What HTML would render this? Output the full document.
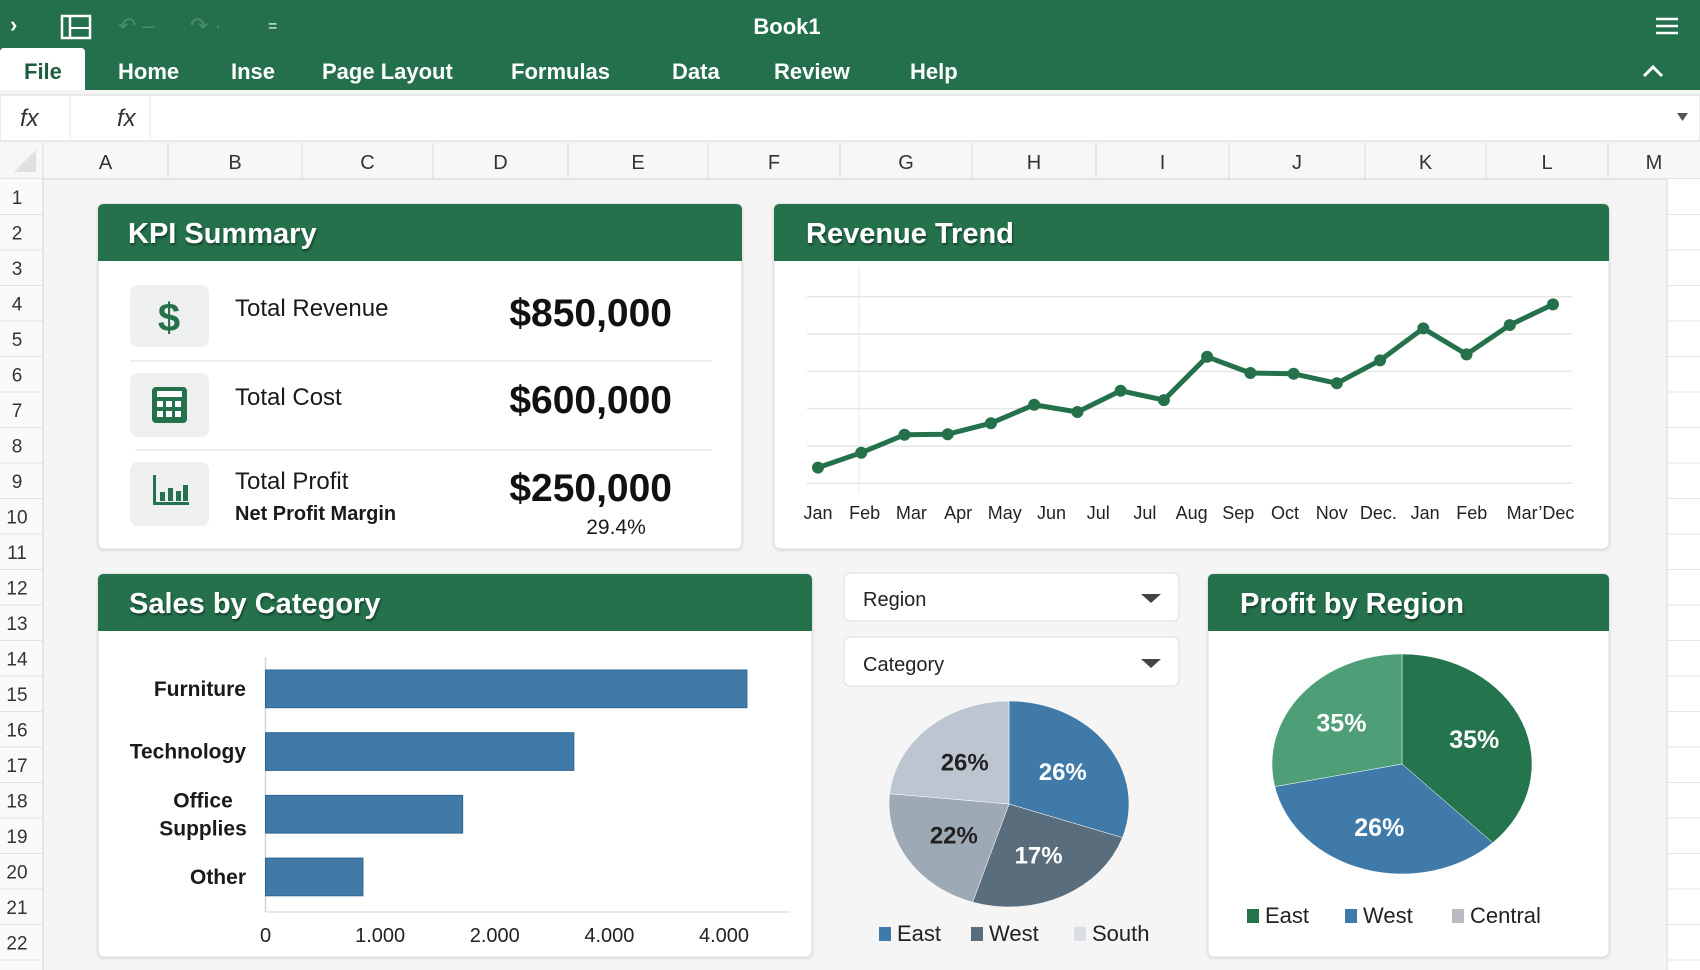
<!DOCTYPE html>
<html><head><meta charset="utf-8"><title>Book1 Dashboard</title>
<style>
html,body{margin:0;padding:0;width:1700px;height:970px;overflow:hidden;background:#f4f5f4;font-family:"Liberation Sans",sans-serif}
svg{display:block}
text{font-family:"Liberation Sans",sans-serif}
</style></head>
<body>
<svg id="root" width="1700" height="970" viewBox="0 0 1700 970" xmlns="http://www.w3.org/2000/svg">
<defs>
<filter id="ts" x="-5%" y="-20%" width="110%" height="140%"><feDropShadow dx="1" dy="2" stdDeviation="1" flood-color="#000" flood-opacity="0.45"/></filter>
<filter id="cs" x="-2%" y="-2%" width="104%" height="106%"><feDropShadow dx="0" dy="1" stdDeviation="1.5" flood-color="#000" flood-opacity="0.12"/></filter>
</defs>
<rect x="0" y="0" width="1700" height="90" fill="#246f4c"/>
<text x="10" y="32" fill="#fff" font-size="22" font-weight="bold">›</text>
<g><rect x="62" y="16" width="28" height="22" fill="none" stroke="#fff" stroke-width="2.5"/><line x1="70" y1="16" x2="70" y2="38" stroke="#fff" stroke-width="2.5"/><line x1="70" y1="28" x2="90" y2="28" stroke="#fff" stroke-width="2"/></g>
<text x="118" y="33" fill="#4e8c6c" font-size="22">↶ –</text>
<text x="190" y="33" fill="#4e8c6c" font-size="22">↷ ·</text>
<text x="268" y="31" fill="#fff" font-size="16">=</text>
<text x="787" y="34" fill="#fff" font-size="22" font-weight="bold" text-anchor="middle">Book1</text>
<g stroke="#fff" stroke-width="2.5"><line x1="1656" y1="19" x2="1678" y2="19"/><line x1="1656" y1="26" x2="1678" y2="26"/><line x1="1656" y1="33" x2="1678" y2="33"/></g>
<path d="M0 52 Q0 48 4 48 L81 48 Q85 48 85 52 L85 90 L0 90 Z" fill="#fff"/>
<g font-size="22" font-weight="bold" fill="#fff">
<text x="24" y="79" fill="#1d5e3e">File</text>
<text x="118" y="79">Home</text>
<text x="231" y="79">Inse</text>
<text x="322" y="79">Page Layout</text>
<text x="511" y="79">Formulas</text>
<text x="672" y="79">Data</text>
<text x="774" y="79">Review</text>
<text x="910" y="79">Help</text>
</g>
<path d="M1644 76 L1653 67 L1662 76" fill="none" stroke="#fff" stroke-width="3"/>
<rect x="0" y="95" width="1700" height="46" fill="#fff" stroke="#d6d6d6"/>
<line x1="70" y1="97" x2="70" y2="139" stroke="#e6e6e6"/>
<line x1="150" y1="97" x2="150" y2="139" stroke="#e6e6e6"/>
<text x="20" y="126" font-size="24" font-style="italic" font-family="Liberation Serif" fill="#333">fx</text>
<text x="117" y="126" font-size="24" font-style="italic" font-family="Liberation Serif" fill="#333">fx</text>
<path d="M1677 113 L1688 113 L1682.5 121 Z" fill="#555"/>
<rect x="0" y="143" width="1700" height="36" fill="#f7f7f7"/>
<line x1="0" y1="179" x2="1700" y2="179" stroke="#cfcfcf"/>
<path d="M36 150 L36 172 L14 172 Z" fill="#e0e0e0"/>
<g id="colheads"></g>
<rect x="0" y="179" width="43" height="791" fill="#fafafa"/>
<line x1="43" y1="179" x2="43" y2="970" stroke="#d6d6d6"/>
<g id="rowheads"></g>
<rect x="1667" y="179" width="33" height="791" fill="#fff"/>
<g id="rightgrid"></g>

<g>
<rect x="98" y="204" width="644" height="345" rx="6" fill="#fff" stroke="#dcdcdc" filter="url(#cs)"/>
<path d="M98 210 Q98 204 104 204 L736 204 Q742 204 742 210 L742 261 L98 261 Z" fill="#24714c"/>
<text x="128" y="243" font-size="29" font-weight="bold" fill="#fff" filter="url(#ts)">KPI Summary</text>
<rect x="130" y="285" width="79" height="62" rx="8" fill="#eef0ef"/>
<text x="169" y="331" font-size="40" font-weight="bold" fill="#24714c" text-anchor="middle">$</text>
<rect x="130" y="373" width="79" height="64" rx="8" fill="#eef0ef"/>
<g><rect x="152" y="387" width="35" height="36" rx="4" fill="#24714c"/><rect x="157" y="391" width="25" height="6" fill="#fff"/>
<rect x="157" y="401" width="6" height="6" fill="#fff"/><rect x="166" y="401" width="6" height="6" fill="#fff"/><rect x="175" y="401" width="6" height="6" fill="#fff"/>
<rect x="157" y="411" width="6" height="6" fill="#fff"/><rect x="166" y="411" width="6" height="6" fill="#fff"/><rect x="175" y="411" width="6" height="6" fill="#fff"/></g>
<rect x="130" y="462" width="79" height="64" rx="8" fill="#eef0ef"/>
<g fill="#24714c"><rect x="153" y="475" width="3" height="30"/><rect x="153" y="502" width="36" height="3"/><rect x="160" y="492" width="5" height="9"/><rect x="168" y="488" width="5" height="13"/><rect x="176" y="491" width="5" height="10"/><rect x="183" y="485" width="5" height="16"/></g>
<line x1="130" y1="361" x2="712" y2="361" stroke="#e8e8e8" stroke-width="1.5"/>
<line x1="135" y1="450" x2="712" y2="450" stroke="#e8e8e8" stroke-width="1.5"/>
<g font-size="24" fill="#1a1a1a">
<text x="235" y="316">Total Revenue</text>
<text x="235" y="405">Total Cost</text>
<text x="235" y="489">Total Profit</text>
</g>
<text x="235" y="520" font-size="20" font-weight="bold" fill="#1a1a1a">Net Profit Margin</text>
<g font-size="39" font-weight="bold" fill="#111" text-anchor="end">
<text x="672" y="326">$850,000</text>
<text x="672" y="413">$600,000</text>
<text x="672" y="501">$250,000</text>
</g>
<text x="616" y="534" font-size="21" fill="#1a1a1a" text-anchor="middle">29.4%</text>
</g>

<g>
<rect x="774" y="204" width="835" height="345" rx="6" fill="#fff" stroke="#dcdcdc" filter="url(#cs)"/>
<path d="M774 210 Q774 204 780 204 L1603 204 Q1609 204 1609 210 L1609 261 L774 261 Z" fill="#24714c"/>
<text x="806" y="243" font-size="29" font-weight="bold" fill="#fff" filter="url(#ts)">Revenue Trend</text>
<g id="lineChart"></g>
</g>

<g>
<rect x="98" y="574" width="714" height="383" rx="6" fill="#fff" stroke="#dcdcdc" filter="url(#cs)"/>
<path d="M98 580 Q98 574 104 574 L806 574 Q812 574 812 580 L812 631 L98 631 Z" fill="#24714c"/>
<text x="129" y="613" font-size="29" font-weight="bold" fill="#fff" filter="url(#ts)">Sales by Category</text>
<g id="barChart"></g>
</g>

<g>
<rect x="844" y="573" width="335" height="48" rx="6" fill="#fff" stroke="#dedede"/>
<text x="863" y="606" font-size="20" fill="#222">Region</text>
<path d="M1141 594 L1161 594 L1151 603 Z" fill="#444"/>
</g>
<g>
<rect x="844" y="637" width="335" height="49" rx="6" fill="#fff" stroke="#dedede"/>
<text x="863" y="671" font-size="20" fill="#222">Category</text>
<path d="M1141 659 L1161 659 L1151 668 Z" fill="#444"/>
</g>
<g id="pie1"></g>

<g>
<rect x="1208" y="574" width="401" height="383" rx="6" fill="#fff" stroke="#dcdcdc" filter="url(#cs)"/>
<path d="M1208 580 Q1208 574 1214 574 L1603 574 Q1609 574 1609 580 L1609 631 L1208 631 Z" fill="#24714c"/>
<text x="1240" y="613" font-size="29" font-weight="bold" fill="#fff" filter="url(#ts)">Profit by Region</text>
<g id="pie2"></g>
</g>
</svg>
<script>
const revMonths = ["Jan","Feb","Mar","Apr","May","Jun","Jul","Jul","Aug","Sep","Oct","Nov","Dec.","Jan","Feb","Mar\u2019Dec"];
const revValues = [8.4,16.4,26,26.3,32.2,42.1,38.2,49.6,44.6,67.8,59.1,58.7,53.6,65.9,83,69.1,84.8,95.9];
const revTicks = [0,20,40,60,80,100];
const salesCats = [["Furniture"],["Technology"],["Office","Supplies"],["Other"]];
const salesValues = [4200,2690,1720,850];
const salesTickValues = [0,1000,2000,3000,4000];
const salesTickLabels = ["0","1.000","2.000","4.000","4.000"];
const pie1Names = ["East","West","Central","South"];
const pie1Values = [30.3,24.6,21.7,23.4];
const pie1Labels = ["26%","17%","22%","26%"];
const pie1Legend = ["East","West","South"];
const pie2Names = ["East","West","Central"];
const pie2Values = [37.7,34.0,28.3];
const pie2Labels = ["35%","26%","35%"];
const pie2Legend = ["East","West","Central"];

const NS="http://www.w3.org/2000/svg";
function mk(tag,attrs,parent,txt){const e=document.createElementNS(NS,tag);for(const k in attrs)e.setAttribute(k,attrs[k]);if(txt!==undefined)e.textContent=txt;parent.appendChild(e);return e;}

const colHead=document.getElementById('colheads');
const colEdges=[43,168,302,433,568,708,840,972,1096,1229,1365,1486,1608,1700];
const colLetters="ABCDEFGHIJKLM";
for(let i=0;i<13;i++){
  const t=mk('text',{x:(colEdges[i]+colEdges[i+1])/2,y:169,'font-size':20,fill:'#333','text-anchor':'middle'},colHead,colLetters[i]);
  
  
  mk('line',{x1:colEdges[i],y1:143,x2:colEdges[i],y2:179,stroke:'#dadada'},colHead);
}
const rowHead=document.getElementById('rowheads');
for(let r=1;r<=22;r++){
  const top=179+(r-1)*35.5;
  const t=mk('text',{x:17,y:top+25,'font-size':19,fill:'#333','text-anchor':'middle'},rowHead,String(r));
  
  
  mk('line',{x1:0,y1:top+35.5,x2:43,y2:top+35.5,stroke:'#e3e3e3'},rowHead);
}
const rg=document.getElementById('rightgrid');
mk('line',{x1:1667,y1:179,x2:1667,y2:970,stroke:'#d8d8d8'},rg);
for(let r=1;r<=22;r++){mk('line',{x1:1667,y1:179+r*35.5,x2:1700,y2:179+r*35.5,stroke:'#e6e6e6'},rg);}

(function(){
  const g=document.getElementById('lineChart');
  const x0=818,x1=1553,yb=483.3,yt=296.7;
  const xS=i=>x0+(x1-x0)*i/(revValues.length-1);
  const yS=v=>yb-(v-revTicks[0])/(revTicks[revTicks.length-1]-revTicks[0])*(yb-yt);
  revTicks.forEach(t=>{const l=mk('line',{x1:807,x2:1572,y1:yS(t),y2:yS(t),stroke:'#e6e6e6','stroke-width':1.5},g);
    
    });
  mk('line',{x1:859,x2:859,y1:267,y2:493,stroke:'#e8e8e8'},g);
  const pts=revValues.map((v,i)=>xS(i)+','+yS(v)).join(' ');
  const pl=mk('polyline',{points:pts,fill:'none',stroke:'#24714c','stroke-width':5,'stroke-linejoin':'round'},g);
  
  
  revValues.forEach((v,i)=>{const c=mk('circle',{cx:xS(i),cy:yS(v),r:6,fill:'#24714c'},g);
    
    });
  const lx0=818,step=46.7;
  revMonths.forEach((m,i)=>{
    const last=i===revMonths.length-1;
    const t=mk('text',{x:lx0+step*i+(last?22:0),y:519,'font-size':18,fill:'#222','text-anchor':'middle'},g,m);
    
    });
})();

(function(){
  const g=document.getElementById('barChart');
  const ax=265.5, pxPer=(724-265.5)/4000, top0=670, pitch=62.7, bh=37.7;
  const xS=v=>ax+v*pxPer;
  mk('line',{x1:ax,x2:ax,y1:657,y2:912,stroke:'#d6d6d6','stroke-width':1.5},g);
  mk('line',{x1:ax,x2:790,y1:912,y2:912,stroke:'#e2e2e2','stroke-width':1.5},g);
  salesValues.forEach((v,i)=>{
    const y=top0+i*pitch;
    const r=mk('rect',{x:ax,y:y,width:xS(v)-ax,height:bh,fill:'#3f7aa8',stroke:'#2f6592','stroke-width':1},g);
    
    
    const lines=salesCats[i];
    lines.forEach((ln,j)=>{
      const cy=y+bh/2+(j-(lines.length-1)/2)*28;
      const t=mk('text',{x:lines.length>1?203:246,y:cy+7,'font-size':21,'font-weight':'bold',fill:'#1a1a1a','text-anchor':lines.length>1?'middle':'end'},g,ln);
      
      
    });
  });
  salesTickValues.forEach((v,i)=>{const t=mk('text',{x:xS(v),y:942,'font-size':20,fill:'#222','text-anchor':'middle'},g,salesTickLabels[i]);
    
    });
})();

function pie(g,cx,cy,rx,ry,vals,cols,labels,labelPos,labelCols,fs){
  const tot=vals.reduce((a,b)=>a+b,0);
  let a=0;
  vals.forEach((v,i)=>{
    const a0=a, a1=a+v/tot*2*Math.PI; a=a1;
    const p=ang=>[cx+rx*Math.sin(ang),cy-ry*Math.cos(ang)];
    const [sx,sy]=p(a0),[ex,ey]=p(a1);
    const large=(a1-a0)>Math.PI?1:0;
    const path=mk('path',{d:`M${cx} ${cy} L${sx} ${sy} A${rx} ${ry} 0 ${large} 1 ${ex} ${ey} Z`,fill:cols[i],stroke:'#fff','stroke-width':0.5},g);
    
    
    const mid=(a0+a1)/2, k=labelPos;
    const t=mk('text',{x:cx+rx*k*Math.sin(mid),y:cy-ry*k*Math.cos(mid)+fs*0.36,'font-size':fs,'font-weight':'bold',fill:labelCols[i],'text-anchor':'middle'},g,labels[i]);
    
    
  });
}
function legend(g,names,cols,xs,y){
  names.forEach((n,i)=>{
    const r=mk('rect',{x:xs[i],y:y-14,width:12,height:14,fill:cols[i]},g);
    
    
    const t=mk('text',{x:xs[i]+18,y:y,'font-size':22,fill:'#222'},g,n);
    
    
  });
}
pie(document.getElementById('pie1'),1009,804,120,103,pie1Values,['#3f7aa8','#5a6d7d','#9ea9b6','#bcc5d0'],pie1Labels,0.55,['#fff','#fff','#222','#222'],24);
legend(document.getElementById('pie1'),pie1Legend,['#3f7aa8','#5a6d7d','#dadde2'],[879,971,1074],941);
pie(document.getElementById('pie2'),1402,764,130,110,pie2Values,['#24744e','#3f7aa8','#4e9e78'],pie2Labels,0.6,['#fff','#fff','#fff'],25);
legend(document.getElementById('pie2'),pie2Legend,['#24744e','#3f7aa8','#b8bbbf'],[1247,1345,1452],923);
</script>
</body></html>
